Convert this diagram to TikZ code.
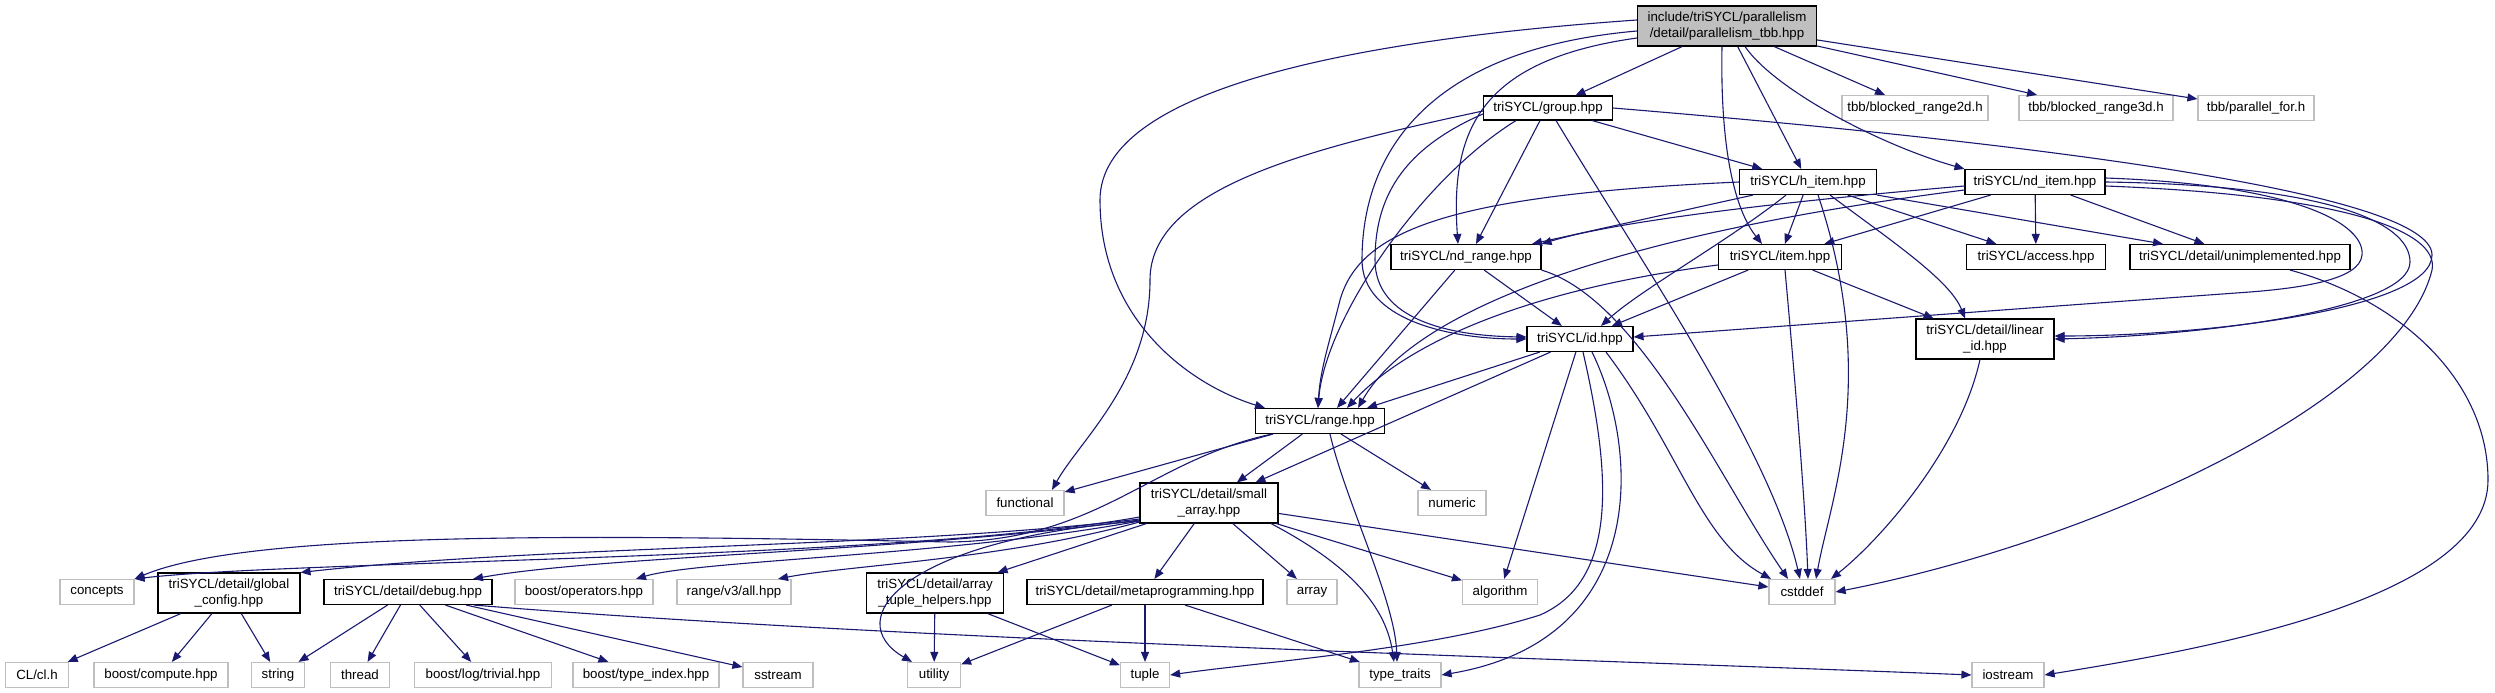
\documentclass[tikz,border=0pt]{standalone}
\usepackage{fontspec}
\setmainfont{Liberation Sans}
\usetikzlibrary{arrows.meta}
\definecolor{edgec}{HTML}{191970}
\definecolor{grayb}{HTML}{BFBFBF}
\newcommand\fsz{\fontsize{13.3}{16}\selectfont}
\tikzset{
  nb/.style={draw=black, line width=1.1pt, fill=white, inner sep=0pt, font=\fsz, align=center},
  ng/.style={draw=grayb, line width=1.2pt, fill=white, inner sep=0pt, font=\fsz, align=center},
  e/.style={draw=edgec, line width=1.1pt, -{Triangle[length=10pt,width=8pt]}},
}
\begin{document}
\begin{tikzpicture}[x=1pt,y=-1pt]
\useasboundingbox (0,0) rectangle (2495,693);
% nodes
\node[nb, fill=grayb, minimum width=179pt, minimum height=40pt] (root) at (1727,26) {include/triSYCL/parallelism\\/detail/parallelism\_tbb.hpp};
\node[nb, minimum width=129pt, minimum height=24pt] (group) at (1548,108) {triSYCL/group.hpp};
\node[ng, minimum width=146pt, minimum height=25pt] (tbbA) at (1915,108) {tbb/blocked\_range2d.h};
\node[ng, minimum width=154pt, minimum height=25pt] (tbbB) at (2096,108) {tbb/blocked\_range3d.h};
\node[ng, minimum width=116pt, minimum height=25pt] (pfor) at (2256,108) {tbb/parallel\_for.h};
\node[nb, minimum width=137pt, minimum height=25pt] (hitem) at (1808,182) {triSYCL/h\_item.hpp};
\node[nb, minimum width=140pt, minimum height=25pt] (nditem) at (2035,182) {triSYCL/nd\_item.hpp};
\node[nb, minimum width=150pt, minimum height=25pt] (ndrange) at (1466,257) {triSYCL/nd\_range.hpp};
\node[nb, minimum width=123pt, minimum height=25pt] (item) at (1780,257) {triSYCL/item.hpp};
\node[nb, minimum width=139pt, minimum height=25pt] (access) at (2036,257) {triSYCL/access.hpp};
\node[nb, minimum width=220pt, minimum height=25pt] (unimpl) at (2240,257) {triSYCL/detail/unimplemented.hpp};
\node[nb, minimum width=106pt, minimum height=25pt] (id) at (1580,339) {triSYCL/id.hpp};
\node[nb, minimum width=138pt, minimum height=40pt] (linid) at (1985,339) {triSYCL/detail/linear\\\_id.hpp};
\node[nb, minimum width=129pt, minimum height=25pt] (range) at (1320,421) {triSYCL/range.hpp};
\node[ng, minimum width=78pt, minimum height=25pt] (functional) at (1025,503) {functional};
\node[nb, minimum width=138pt, minimum height=40pt] (smallarr) at (1209,503) {triSYCL/detail/small\\\_array.hpp};
\node[ng, minimum width=68pt, minimum height=25pt] (numeric) at (1452,503) {numeric};
\node[ng, minimum width=74pt, minimum height=25pt] (concepts) at (97,592) {concepts};
\node[nb, minimum width=142pt, minimum height=40pt] (globcfg) at (229,593) {triSYCL/detail/global\\\_config.hpp};
\node[nb, minimum width=168pt, minimum height=25pt] (debug) at (408,592) {triSYCL/detail/debug.hpp};
\node[ng, minimum width=138pt, minimum height=25pt] (boostop) at (584,592) {boost/operators.hpp};
\node[ng, minimum width=114pt, minimum height=25pt] (rangev3) at (734,592) {range/v3/all.hpp};
\node[nb, minimum width=137pt, minimum height=40pt] (arrtup) at (935,593) {triSYCL/detail/array\\\_tuple\_helpers.hpp};
\node[nb, minimum width=236pt, minimum height=25pt] (meta) at (1145,592) {triSYCL/detail/metaprogramming.hpp};
\node[ng, minimum width=50pt, minimum height=25pt] (array) at (1312,592) {array};
\node[ng, minimum width=75pt, minimum height=25pt] (algorithm) at (1500,592) {algorithm};
\node[ng, minimum width=66pt, minimum height=25pt] (cstddef) at (1802,592) {cstddef};
\node[ng, minimum width=63pt, minimum height=25pt] (clh) at (37,675) {CL/cl.h};
\node[ng, minimum width=134pt, minimum height=25pt] (bcompute) at (161,675) {boost/compute.hpp};
\node[ng, minimum width=53pt, minimum height=25pt] (string) at (278,675) {string};
\node[ng, minimum width=59pt, minimum height=25pt] (thread) at (360,675) {thread};
\node[ng, minimum width=137pt, minimum height=25pt] (blog) at (483,675) {boost/log/trivial.hpp};
\node[ng, minimum width=146pt, minimum height=25pt] (btype) at (646,675) {boost/type\_index.hpp};
\node[ng, minimum width=70pt, minimum height=25pt] (sstream) at (778,675) {sstream};
\node[ng, minimum width=53pt, minimum height=25pt] (utility) at (934,675) {utility};
\node[ng, minimum width=49pt, minimum height=25pt] (tuple) at (1145,675) {tuple};
\node[ng, minimum width=82pt, minimum height=25pt] (typetraits) at (1400,675) {type\_traits};
\node[ng, minimum width=72pt, minimum height=25pt] (iostream) at (2008,675) {iostream};
% root edges
\draw[e] (root) -- (group);
\draw[e] (root) -- (tbbA);
\draw[e] (root) -- (tbbB);
\draw[e] (root) -- (pfor);
\draw[e] (root) -- (hitem);
\draw[e] ([xshift=18]root.south) .. controls (1775,90) and (1880,145) .. (nditem.north west);
\draw[e] ([xshift=-5]root.south) .. controls (1720,150) and (1735,210) .. ([xshift=-18]item.north);
\draw[e] ([yshift=-12]root.west) .. controls (1480,60) and (1450,130) .. ([xshift=-8]ndrange.north);
\draw[e] ([yshift=-5]root.west) .. controls (1420,50) and (1362,160) .. (1362,260) .. controls (1362,320) and (1450,339) .. (id.west);
\draw[e] ([yshift=6]root.west) .. controls (1350,40) and (1100,90) .. (1100,200) .. controls (1100,320) and (1190,385) .. ([xshift=-55]range.north);
% group edges
\draw[e] (group) -- (hitem);
\draw[e] ([xshift=-8]group.south) -- ([xshift=10]ndrange.north);
\draw[e] ([xshift=-32]group.south) .. controls (1420,180) and (1325,320) .. ([xshift=-2]range.north);
\draw[e] ([yshift=-6]group.west) .. controls (1400,150) and (1375,200) .. (1375,260) .. controls (1375,320) and (1450,336) .. ([yshift=2]id.west);
\draw[e] ([yshift=-3]group.west) .. controls (1300,150) and (1150,190) .. (1150,280) .. controls (1150,380) and (1080,440) .. ([xshift=27]functional.north);
\draw[e] ([xshift=8]group.south) .. controls (1640,260) and (1770,450) .. ([xshift=-2]cstddef.north);
\draw[e] (group.east) .. controls (2000,140) and (2432,190) .. (2432,255) .. controls (2432,310) and (2200,336) .. ([yshift=3]linid.east);
% h_item edges
\draw[e] (hitem) -- (item);
\draw[e] (hitem) -- (access);
\draw[e] ([xshift=-55]hitem.south) -- ([xshift=66]ndrange.north);
\draw[e] ([xshift=-22]hitem.south) .. controls (1730,240) and (1640,290) .. ([xshift=21]id.north);
\draw[e] ([xshift=22]hitem.south) .. controls (1890,240) and (1950,280) .. ([xshift=-20]linid.north);
\draw[e] (hitem.south east) -- ([xshift=-77]unimpl.north);
\draw[e] ([xshift=10]hitem.south) .. controls (1880,380) and (1830,500) .. ([xshift=14]cstddef.north);
\draw[e] (hitem.west) .. controls (1450,195) and (1360,230) .. (1340,300) .. controls (1330,340) and (1320,370) .. ([xshift=-2]range.north);
% nd_item edges
\draw[e] (nditem) -- (access);
\draw[e] (nditem) -- (unimpl);
\draw[e] (nditem) -- (item);
\draw[e] ([yshift=-4]nditem.west) .. controls (1800,200) and (1620,220) .. (ndrange.north east);
\draw[e] ([yshift=-8]nditem.west) .. controls (1650,230) and (1420,300) .. ([xshift=38]range.north);
\draw[e] ([yshift=4]nditem.east) .. controls (2300,185) and (2365,225) .. (2362,255) .. controls (2360,280) and (2300,288) .. (2250,292) .. controls (2000,310) and (1800,325) .. ([yshift=2]id.east);
\draw[e] (nditem.east) .. controls (2320,185) and (2410,220) .. (2410,262) .. controls (2410,310) and (2200,336) .. (linid.east);
\draw[e] ([yshift=-4]nditem.east) .. controls (2340,195) and (2440,230) .. (2432,270) .. controls (2400,400) and (2100,540) .. (cstddef.east);
% nd_range edges
\draw[e] (ndrange) -- ([xshift=17]range.north);
\draw[e] (ndrange) -- (id);
\draw[e] (ndrange.south east) .. controls (1640,300) and (1720,480) .. ([xshift=-14]cstddef.north);
% item edges
\draw[e] (item) -- (id);
\draw[e] (item) -- (linid);
\draw[e] ([xshift=5]item.south) .. controls (1795,380) and (1805,500) .. ([xshift=6]cstddef.north);
\draw[e] ([yshift=-8]item.west) .. controls (1560,285) and (1420,330) .. ([xshift=27]range.north);
% id edges
\draw[e] (id) -- ([xshift=47]range.north);
\draw[e] (id) -- (smallarr);
\draw[e] (id) -- (algorithm);
\draw[e] ([xshift=3]id.south) .. controls (1610,470) and (1620,580) .. (1540,615) .. controls (1430,650) and (1260,662) .. (tuple.east);
\draw[e] ([xshift=12]id.south) .. controls (1640,450) and (1650,640) .. (typetraits.east);
\draw[e] ([xshift=26]id.south) .. controls (1680,450) and (1700,540) .. ([xshift=-31]cstddef.north);
% range edges
\draw[e] (range) -- (functional);
\draw[e] (range) -- (smallarr);
\draw[e] (range) -- (numeric);
\draw[e] ([xshift=10]range.south) .. controls (1345,500) and (1395,600) .. ([xshift=-3]typetraits.north);
\draw[e] ([xshift=-48]range.south) .. controls (1150,460) and (1100,540) .. (950,542) .. controls (600,535) and (250,530) .. (concepts.north east);
% small_array edges
\draw[e] ([yshift=-14]smallarr.west) .. controls (900,560) and (300,560) .. (concepts.north east);
\draw[e] ([yshift=-16]smallarr.west) .. controls (900,548) and (550,545) .. (globcfg.north east);
\draw[e] ([yshift=-17]smallarr.west) .. controls (900,552) and (600,556) .. ([xshift=65]debug.north);
\draw[e] ([yshift=-18]smallarr.west) .. controls (950,556) and (700,560) .. ([xshift=52]boostop.north);
\draw[e] ([yshift=-19]smallarr.west) .. controls (1000,560) and (850,565) .. ([xshift=44]rangev3.north);
\draw[e] ([yshift=-18]smallarr.west) .. controls (900,540) and (840,620) .. ([xshift=-22]utility.north);
\draw[e] (smallarr) -- (arrtup);
\draw[e] (smallarr) -- (meta);
\draw[e] (smallarr) -- (array);
\draw[e] (smallarr) -- (algorithm);
\draw[e] ([xshift=62]smallarr.south) .. controls (1340,560) and (1385,600) .. ([xshift=-6]typetraits.north);
\draw[e] (smallarr) -- (cstddef);
% global_config
\draw[e] (globcfg) -- (clh);
\draw[e] (globcfg) -- (bcompute);
\draw[e] (globcfg) -- (string);
% debug
\draw[e] (debug) -- (string);
\draw[e] (debug) -- (thread);
\draw[e] (debug) -- (blog);
\draw[e] (debug) -- (btype);
\draw[e] (debug) -- (sstream);
\draw[e] ([xshift=66]debug.south) .. controls (900,640) and (1600,660) .. (iostream.west);
% array_tuple, metaprogramming
\draw[e] (arrtup) -- (utility);
\draw[e] (arrtup) -- (tuple);
\draw[e] (meta) -- (utility);
\draw[e] (meta) -- (tuple);
\draw[e] (meta) -- (typetraits);
% linear_id, unimplemented
\draw[e] ([xshift=-5]linid.south) .. controls (1960,450) and (1880,540) .. ([xshift=29]cstddef.north);
\draw[e] ([xshift=50]unimpl.south) .. controls (2400,300) and (2488,380) .. (2488,480) .. controls (2488,600) and (2200,650) .. (iostream.east);
\end{tikzpicture}
\end{document}
